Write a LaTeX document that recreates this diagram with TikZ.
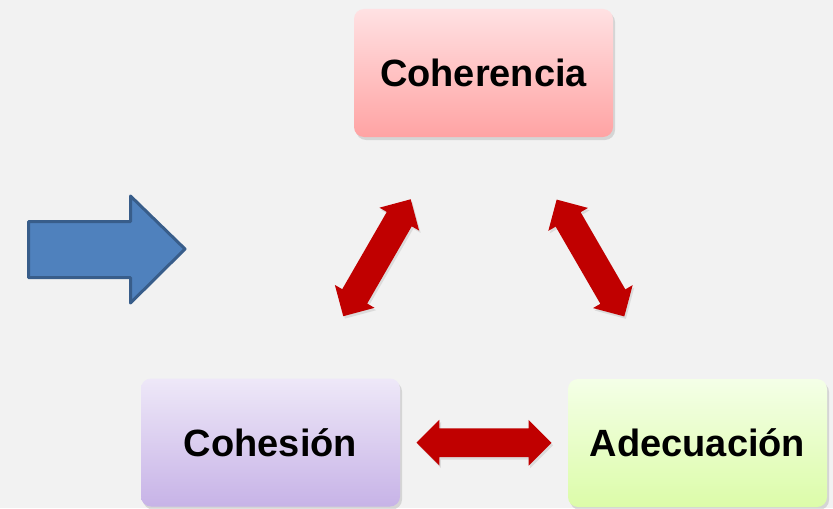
\documentclass[tikz,border=0pt]{standalone}
\usepackage{fontspec}
\setmainfont{Liberation Sans}
\usepackage{tikz}
\usetikzlibrary{shapes.arrows,shadows}
\definecolor{bggray}{HTML}{F2F2F2}
\definecolor{cohtop}{HTML}{FFE1E3}
\definecolor{cohbot}{HTML}{FFA3A3}
\definecolor{sintop}{HTML}{EEE8F8}
\definecolor{sinbot}{HTML}{C7B3E7}
\definecolor{adetop}{HTML}{F4FFE7}
\definecolor{adebot}{HTML}{DCFCA9}
\definecolor{linkred}{HTML}{C00000}
\definecolor{bluefill}{HTML}{4F81BD}
\definecolor{blueline}{HTML}{385D8A}

\begin{document}
\begin{tikzpicture}[x=0.5pt,y=0.5pt]
	\tikzstyle{every node}+=[inner sep=0pt]
	\tikzstyle{box}=[rounded corners=5pt, minimum width=129.5pt, minimum height=64pt, font=\bfseries\fontsize{19}{23}\selectfont, drop shadow={shadow xshift=1pt, shadow yshift=-1.5pt, opacity=0.25}]
	\tikzstyle{link}=[double arrow, fill=linkred, inner xsep=0pt, inner ysep=7pt, minimum height=67.5pt, double arrow head extend=4.25pt, sloped, drop shadow={shadow xshift=0.8pt, shadow yshift=-1.2pt, opacity=0.2}]
	\useasboundingbox (0,0) rectangle (833,-508);
	\fill [bggray] (0,0) rectangle (833,-508);
	\node [box, top color=cohtop, bottom color=cohbot] (coherencia) at (483.5,-73) {Coherencia};
	\node [box, top color=sintop, bottom color=sinbot] (cohesion) at (270.5,-442.5) {Cohesión};
	\node [box, top color=adetop, bottom color=adebot] (adecuacion) at (697.5,-443) {Adecuación};
	\path (coherencia) -- node [link] (linkleft) {} (cohesion);
	\path (coherencia) -- node [link] (linkright) {} (adecuacion);
	\path (cohesion) -- node [link] (linkbottom) {} (adecuacion);
	\draw [blueline, fill=bluefill, line width=1.5pt, line join=round] (28.5,-221.5) -- (130.5,-221.5) -- (130.5,-196) -- (185,-249) -- (130.5,-303) -- (130.5,-277.5) -- (28.5,-277.5) -- cycle;
\end{tikzpicture}
\end{document}
